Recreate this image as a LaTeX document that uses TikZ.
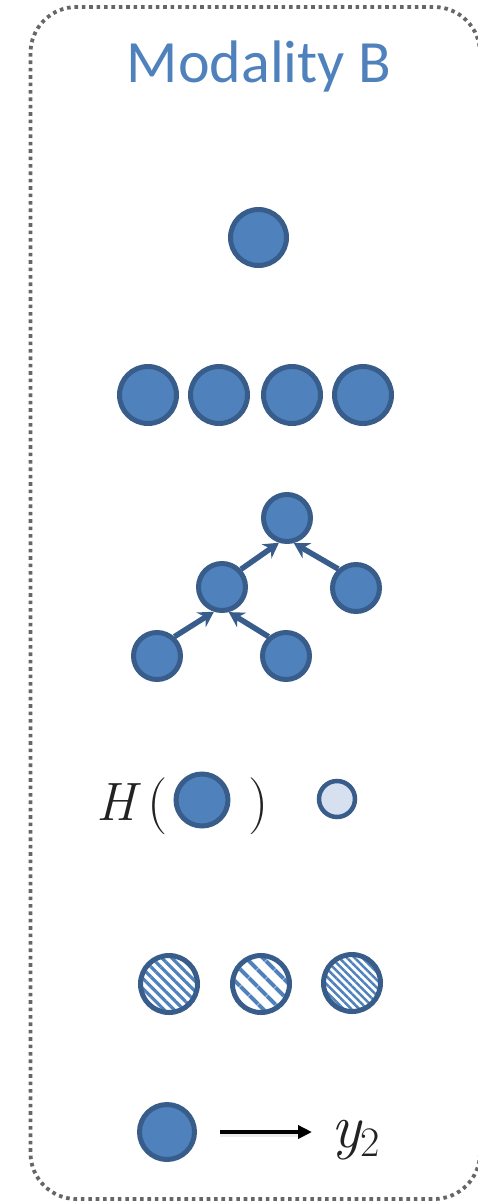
\documentclass[tikz,border=0pt]{standalone}
\usepackage{fontspec}
\newfontfamily\titlefont{Carlito}
\usetikzlibrary{patterns.meta,arrows.meta}
\definecolor{bblue}{HTML}{4F81BD}
\definecolor{bdark}{HTML}{385D8A}
\definecolor{blight}{HTML}{D6E0EF}
\definecolor{boxgray}{HTML}{666666}
\definecolor{mathgray}{HTML}{222222}
\tikzset{
  bnode/.style={circle, draw=bdark, fill=bblue, line width=5pt, inner sep=0pt, minimum size=#1},
  lnode/.style={circle, draw=bdark, fill=blight, line width=4.5pt, inner sep=0pt, minimum size=#1},
  hnode/.style={circle, draw=bdark, line width=5pt, inner sep=0pt, minimum size=57pt,
    pattern={Lines[angle=-45,distance=#1]}, pattern color=bblue},
  treearrow/.style={draw=bdark, line width=5.5pt, -{Stealth[length=15pt,width=17pt]}},
  blackarrow/.style={draw=black, line width=3.5pt, -{Triangle[length=14pt,width=13pt]}},
  mathtxt/.style={inner sep=0pt, text=mathgray, font=\fontsize{#1}{#1}\selectfont},
  boxline/.style={draw=boxgray, line width=3.8pt, dash pattern=on 3.6pt off 3.8pt, rounded corners=46pt}
}
\begin{document}
\begin{tikzpicture}[x=1pt,y=-1pt]
\useasboundingbox (0,0) rectangle (477,1202);
% outer dotted box
\draw[boxline] (30.5,7) rectangle (480,1199);
% title
\node[anchor=base, inner sep=0pt, text=bblue, font=\titlefont\fontsize{60}{62}\selectfont] (title) at (259,82) {Modality B};
% single node
\node[bnode=56pt] (s) at (258.5,237.5) {};
% row of four
\node[bnode=57pt] (r1) at (148,395) {};
\node[bnode=57pt] (r2) at (219,395) {};
\node[bnode=57pt] (r3) at (292,395) {};
\node[bnode=57pt] (r4) at (363,395) {};
% tree
\node[bnode=47pt] (t1) at (287,518) {};
\node[bnode=47pt] (t2) at (222,587) {};
\node[bnode=47pt] (t3) at (356,588) {};
\node[bnode=47pt] (t4) at (157,656) {};
\node[bnode=47pt] (t5) at (286,656) {};
\draw[treearrow] (t2.43) -- (t1.252);
\draw[treearrow] (t3.133) -- (t1.285);
\draw[treearrow] (t4.48) -- (t2.252);
\draw[treearrow] (t5.132) -- (t2.285);
% entropy
\node[mathtxt=54, anchor=base west] (hh) at (96,820) {\itshape H};
\node[mathtxt=57, anchor=base east] (hl) at (168,820) {(};
\node[bnode=52pt] (hc) at (202,800) {};
\node[mathtxt=57, anchor=base west] (hr) at (248,820) {)};
\node[lnode=36pt] (hs) at (337,799) {};
% hatched nodes
\node[hnode={7pt, line width=3.2pt}] (p1) at (169,984) {};
\node[hnode={13pt, line width=4.5pt}] (p2) at (261,984) {};
\node[hnode={5.5pt, line width=2.5pt}] (p3) at (352,983) {};
% output
\node[bnode=55pt] (o) at (167,1132) {};
\node[mathtxt=62, anchor=base west] (y) at (331,1147) {\itshape y\upshape\raisebox{-9pt}{\fontsize{42}{42}\selectfont 2}};
\draw[draw=black!8, line width=5pt, shorten <=23pt, shorten >=26pt, transform canvas={yshift=-2.5pt}] (o.east) -- (o.east -| y.west);
\draw[blackarrow, shorten <=23pt, shorten >=19pt] (o.east) -- (o.east -| y.west);
\end{tikzpicture}
\end{document}
